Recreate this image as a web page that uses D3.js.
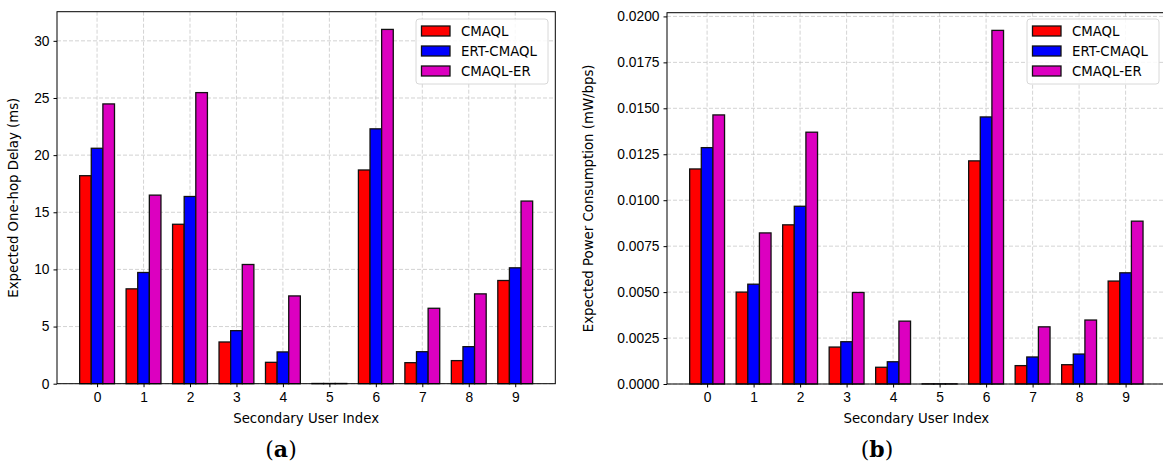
<!DOCTYPE html>
<html>
<head>
<meta charset="utf-8">
<script src="https://cdn.jsdelivr.net/npm/d3@7"></script>
<style>
  body { margin: 0; background: #fff; }
  svg { display: block; font-family: "DejaVu Sans", sans-serif; }
  .grid line { stroke: #c8c8c8; stroke-dasharray: 4,2; stroke-width: 0.8; }
  .tick text { font-size: 13.8px; fill: #000; }
</style>
</head>
<body>
<svg id="chart" width="1163" height="462"></svg>
<script>
// data
const users = [0, 1, 2, 3, 4, 5, 6, 7, 8, 9];
const seriesNames = ["CMAQL", "ERT-CMAQL", "CMAQL-ER"];
const seriesColors = ["#ff0000", "#0000ff", "#dc00c0"];

const delayCMAQL    = [18.2, 8.3, 13.95, 3.65, 1.87, 0.02, 18.7, 1.84, 2.02, 9.03];
const delayERT      = [20.6, 9.73, 16.38, 4.64, 2.78, 0.02, 22.3, 2.80, 3.24, 10.14];
const delayCMAQLER  = [24.48, 16.5, 25.47, 10.43, 7.68, 0.02, 31.0, 6.6, 7.86, 15.98];

const powerCMAQL    = [0.0117, 0.0050, 0.00866, 0.00201, 0.00091, 0.00001, 0.01214, 0.0010, 0.00105, 0.0056];
const powerERT      = [0.01286, 0.00543, 0.00967, 0.0023, 0.00121, 0.00001, 0.01453, 0.00147, 0.00163, 0.00605];
const powerCMAQLER  = [0.01464, 0.00822, 0.0137, 0.00498, 0.00342, 0.00001, 0.01924, 0.00311, 0.00348, 0.00886];

const delayTicks = [0, 5, 10, 15, 20, 25, 30];
const powerTicks = [0, 0.0025, 0.005, 0.0075, 0.01, 0.0125, 0.015, 0.0175, 0.02];

const svg = d3.select("#chart");
const barW = 0.25;

//
// draw one grouped bar panel
//
function drawPanel(opts) {
  const { left, right, top, bottom, series, ticks, tickFmt, yLabel, yLabelX, caption, captionX } = opts;
  const g = svg.append("g");

  const ymax = d3.max(series.flat()) * 1.05;
  const x = d3.scaleLinear().domain([-0.375 - 0.4875, 9.375 + 0.4875]).range([left, right]);
  const y = d3.scaleLinear().domain([0, ymax]).range([bottom, top]);

  // grid
  const grid = g.append("g").attr("class", "grid");
  grid.selectAll("line.gx").data(users).join("line")
      .attr("x1", d => x(d)).attr("x2", d => x(d))
      .attr("y1", top).attr("y2", bottom);
  grid.selectAll("line.gy").data(ticks).join("line")
      .attr("x1", left).attr("x2", right)
      .attr("y1", d => y(d)).attr("y2", d => y(d));

  // bars
  series.forEach((vals, si) => {
    g.append("g").selectAll("rect").data(vals).join("rect")
      .attr("x", (d, i) => x(users[i] + (si - 1) * barW - barW / 2))
      .attr("width", x(barW) - x(0))
      .attr("y", d => y(d))
      .attr("height", d => y(0) - y(d))
      .attr("fill", seriesColors[si])
      .attr("stroke", "#111")
      .attr("stroke-width", 1.3);
  });

  // axes
  g.append("g")
    .attr("transform", `translate(0,${bottom})`)
    .call(d3.axisBottom(x).tickValues(users).tickSize(3.5).tickPadding(5).tickFormat(d3.format("d")))
    .call(a => a.select(".domain").remove());
  g.append("g")
    .attr("transform", `translate(${left},0)`)
    .call(d3.axisLeft(y).tickValues(ticks).tickSize(3.5).tickPadding(4).tickFormat(tickFmt))
    .call(a => a.select(".domain").remove());

  // frame
  g.append("rect")
    .attr("x", left).attr("y", top)
    .attr("width", right - left).attr("height", bottom - top)
    .attr("fill", "none").attr("stroke", "#000").attr("stroke-width", 1);

  // labels
  g.append("text")
    .attr("x", (left + right) / 2).attr("y", bottom + 39)
    .attr("text-anchor", "middle").attr("font-size", "13.3px")
    .text("Secondary User Index");
  g.append("text")
    .attr("transform", `translate(${yLabelX},${(top + bottom) / 2}) rotate(-90)`)
    .attr("text-anchor", "middle").attr("font-size", "13.3px")
    .text(yLabel);

  // caption
  const cap = g.append("text")
    .attr("x", captionX).attr("y", 457)
    .attr("text-anchor", "middle")
    .attr("font-family", "'DejaVu Serif', 'Liberation Serif', serif")
    .attr("font-size", "22px");
  cap.append("tspan").text("(");
  cap.append("tspan").attr("font-weight", "bold").text(caption);
  cap.append("tspan").text(")");

  // legend
  const lx = opts.legendX, ly = 19;
  const leg = g.append("g").attr("transform", `translate(${lx},${ly})`);
  leg.append("rect")
    .attr("width", 132).attr("height", 65).attr("rx", 3)
    .attr("fill", "#fff").attr("fill-opacity", 0.85)
    .attr("stroke", "#d8d8d8");
  seriesNames.forEach((name, i) => {
    leg.append("rect")
      .attr("x", 5.5).attr("y", 7 + i * 20)
      .attr("width", 28.5).attr("height", 10)
      .attr("fill", seriesColors[i]).attr("stroke", "#111").attr("stroke-width", 1.3);
    leg.append("text")
      .attr("x", 45).attr("y", 12 + i * 20)
      .attr("dy", "0.35em").attr("font-size", "13.3px")
      .text(name);
  });
}

drawPanel({
  left: 57, right: 555.3, top: 11.7, bottom: 383.7,
  series: [delayCMAQL, delayERT, delayCMAQLER],
  ticks: delayTicks, tickFmt: d3.format("d"),
  yLabel: "Expected One-hop Delay (ms)", yLabelX: 18,
  caption: "a", captionX: 281, legendX: 416
});

drawPanel({
  left: 667, right: 1165.7, top: 12.7, bottom: 384,
  series: [powerCMAQL, powerERT, powerCMAQLER],
  ticks: powerTicks, tickFmt: d3.format(".4f"),
  yLabel: "Expected Power Consumption (mW/bps)", yLabelX: 593,
  caption: "b", captionX: 877, legendX: 1027
});
</script>
</body>
</html>
